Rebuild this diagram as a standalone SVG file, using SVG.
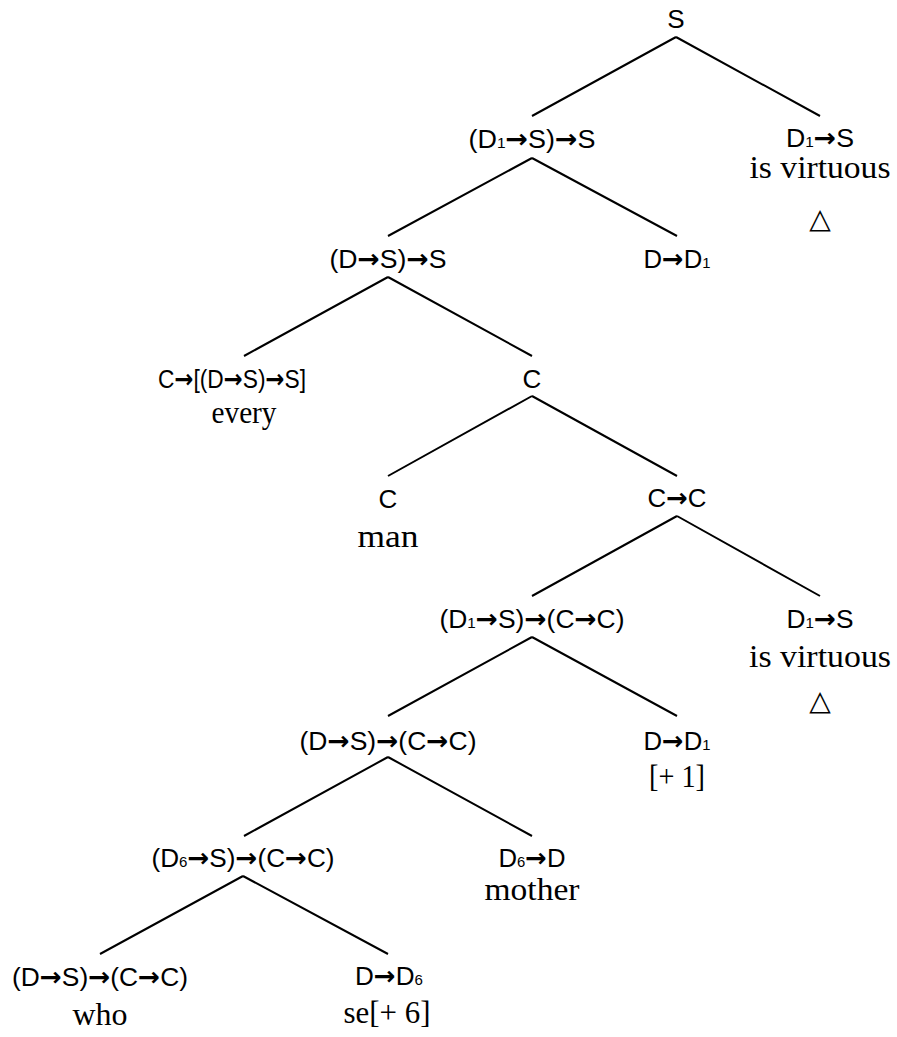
<svg xmlns="http://www.w3.org/2000/svg" width="897" height="1037" viewBox="0 0 897 1037">
  <style>
    .lab { font-family: "Liberation Sans", Arial, sans-serif; font-size: 26px; text-anchor: middle; fill: #000; }
    .sub { font-size: 15px; }
    .arr { font-family: "DejaVu Sans", sans-serif; font-weight: bold; }
    .word { font-family: "Liberation Serif", "Times New Roman", serif; font-size: 32px; text-anchor: middle; fill: #000; }
    .tri { font-family: "DejaVu Sans", sans-serif; font-size: 28px; text-anchor: middle; fill: #000; }
    .edge { stroke: #000; stroke-width: 2; fill: none; stroke-linecap: butt; }
  </style>
  <rect width="897" height="1037" fill="#fff"/>

  <!-- branches of the derivation tree -->
  <g id="edges" class="edge">
    <path d="M676 37 L532 116 M676 37 L820 116"/>
    <path d="M532 158 L388 236 M532 158 L677 236"/>
    <path d="M388 277 L244 356 M388 277 L532 356"/>
    <path d="M532 396 L388 476 M532 396 L677 476"/>
    <path d="M677 516 L532 596 M677 516 L820 596"/>
    <path d="M532 637 L388 716 M532 637 L677 716"/>
    <path d="M388 757 L244 836 M388 757 L532 836"/>
    <path d="M243 876 L100 954 M243 876 L388 954"/>
  </g>

  <g id="n-root">
    <text class="lab" x="676" y="28">S</text>
  </g>

  <g id="n-d1s-s">
    <text class="lab" x="532" y="148" textLength="127" lengthAdjust="spacingAndGlyphs">(D<tspan class="sub">1</tspan><tspan class="arr">→</tspan>S)<tspan class="arr">→</tspan>S</text>
  </g>

  <g id="n-virtuous-top">
    <text class="lab" x="820" y="147" textLength="68" lengthAdjust="spacingAndGlyphs">D<tspan class="sub">1</tspan><tspan class="arr">→</tspan>S</text>
    <text class="word" x="820" y="178" textLength="141" lengthAdjust="spacingAndGlyphs">is virtuous</text>
    <text class="tri" x="820" y="228">△</text>
  </g>

  <g id="n-ds-s">
    <text class="lab" x="388" y="268" textLength="117" lengthAdjust="spacingAndGlyphs">(D<tspan class="arr">→</tspan>S)<tspan class="arr">→</tspan>S</text>
  </g>

  <g id="n-d-d1-top">
    <text class="lab" x="677" y="268" textLength="67" lengthAdjust="spacingAndGlyphs">D<tspan class="arr">→</tspan>D<tspan class="sub">1</tspan></text>
  </g>

  <g id="n-every">
    <text class="lab" x="232" y="388" textLength="148" lengthAdjust="spacingAndGlyphs">C<tspan class="arr">→</tspan>[(D<tspan class="arr">→</tspan>S)<tspan class="arr">→</tspan>S]</text>
    <text class="word" x="244" y="423" textLength="65" lengthAdjust="spacingAndGlyphs">every</text>
  </g>

  <g id="n-c">
    <text class="lab" x="532" y="388">C</text>
  </g>

  <g id="n-man">
    <text class="lab" x="388" y="508">C</text>
    <text class="word" x="388" y="547" textLength="61" lengthAdjust="spacingAndGlyphs">man</text>
  </g>

  <g id="n-c-c">
    <text class="lab" x="677" y="507" textLength="59" lengthAdjust="spacingAndGlyphs">C<tspan class="arr">→</tspan>C</text>
  </g>

  <g id="n-d1s-cc">
    <text class="lab" x="532" y="628" textLength="185" lengthAdjust="spacingAndGlyphs">(D<tspan class="sub">1</tspan><tspan class="arr">→</tspan>S)<tspan class="arr">→</tspan>(C<tspan class="arr">→</tspan>C)</text>
  </g>

  <g id="n-virtuous-rel">
    <text class="lab" x="820" y="628" textLength="67" lengthAdjust="spacingAndGlyphs">D<tspan class="sub">1</tspan><tspan class="arr">→</tspan>S</text>
    <text class="word" x="820" y="667" textLength="142" lengthAdjust="spacingAndGlyphs">is virtuous</text>
    <text class="tri" x="820" y="710">△</text>
  </g>

  <g id="n-ds-cc">
    <text class="lab" x="388" y="750" textLength="177" lengthAdjust="spacingAndGlyphs">(D<tspan class="arr">→</tspan>S)<tspan class="arr">→</tspan>(C<tspan class="arr">→</tspan>C)</text>
  </g>

  <g id="n-index1">
    <text class="lab" x="677" y="750" textLength="67" lengthAdjust="spacingAndGlyphs">D<tspan class="arr">→</tspan>D<tspan class="sub">1</tspan></text>
    <text class="word" x="677" y="787" textLength="56" lengthAdjust="spacingAndGlyphs">[+ 1]</text>
  </g>

  <g id="n-d6s-cc">
    <text class="lab" x="243" y="867" textLength="183" lengthAdjust="spacingAndGlyphs">(D<tspan class="sub">6</tspan><tspan class="arr">→</tspan>S)<tspan class="arr">→</tspan>(C<tspan class="arr">→</tspan>C)</text>
  </g>

  <g id="n-mother">
    <text class="lab" x="532" y="867" textLength="67" lengthAdjust="spacingAndGlyphs">D<tspan class="sub">6</tspan><tspan class="arr">→</tspan>D</text>
    <text class="word" x="532" y="900" textLength="95" lengthAdjust="spacingAndGlyphs">mother</text>
  </g>

  <g id="n-who">
    <text class="lab" x="100" y="986" textLength="176" lengthAdjust="spacingAndGlyphs">(D<tspan class="arr">→</tspan>S)<tspan class="arr">→</tspan>(C<tspan class="arr">→</tspan>C)</text>
    <text class="word" x="100" y="1025" textLength="55" lengthAdjust="spacingAndGlyphs">who</text>
  </g>

  <g id="n-se">
    <text class="lab" x="389" y="985" textLength="68" lengthAdjust="spacingAndGlyphs">D<tspan class="arr">→</tspan>D<tspan class="sub">6</tspan></text>
    <text class="word" x="387" y="1023" textLength="87" lengthAdjust="spacingAndGlyphs">se[+ 6]</text>
  </g>
</svg>
